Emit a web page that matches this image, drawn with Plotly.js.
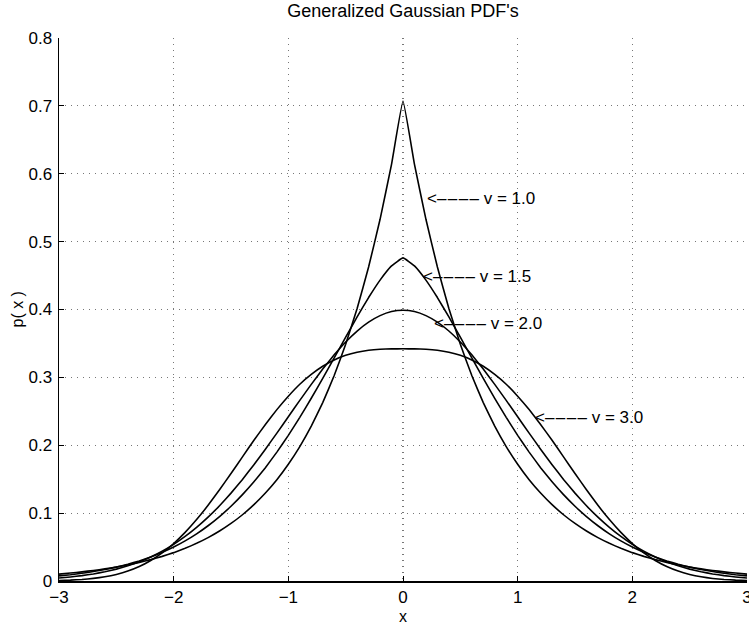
<!DOCTYPE html>
<html>
<head>
<meta charset="utf-8">
<script src="https://cdn.plot.ly/plotly-3.0.1.min.js"></script>
<style>html,body{margin:0;padding:0;background:#fff;}#chart{width:749px;height:624px;}</style>
</head>
<body>
<div id="chart"></div>
<script>
const xValues = [-3.0,-2.9,-2.8,-2.7,-2.6,-2.5,-2.4,-2.3,-2.2,-2.1,-2.0,-1.9,-1.8,-1.7,-1.6,-1.5,-1.4,-1.3,-1.2,-1.1,-1.0,-0.9,-0.8,-0.7,-0.6,-0.5,-0.4,-0.3,-0.2,-0.1,0.0,0.1,0.2,0.3,0.4,0.5,0.6,0.7,0.8,0.9,1.0,1.1,1.2,1.3,1.4,1.5,1.6,1.7,1.8,1.9,2.0,2.1,2.2,2.3,2.4,2.5,2.6,2.7,2.8,2.9,3.0];

const pV10 = [0.0102,0.0117,0.0135,0.0155,0.0179,0.0206,0.0237,0.0273,0.0315,0.0363,0.0418,0.0481,0.0555,0.0639,0.0736,0.0848,0.0976,0.1125,0.1296,0.1492,0.1719,0.1980,0.2281,0.2628,0.3027,0.3487,0.4016,0.4626,0.5329,0.6139,0.7071,0.6139,0.5329,0.4626,0.4016,0.3487,0.3027,0.2628,0.2281,0.1980,0.1719,0.1492,0.1296,0.1125,0.0976,0.0848,0.0736,0.0639,0.0555,0.0481,0.0418,0.0363,0.0315,0.0273,0.0237,0.0206,0.0179,0.0155,0.0135,0.0117,0.0102];

const pV15 = [0.0076,0.0093,0.0114,0.0139,0.0169,0.0204,0.0246,0.0296,0.0354,0.0422,0.0500,0.0591,0.0695,0.0814,0.0949,0.1101,0.1272,0.1461,0.1670,0.1899,0.2146,0.2411,0.2692,0.2985,0.3287,0.3592,0.3891,0.4176,0.4433,0.4642,0.4760,0.4642,0.4433,0.4176,0.3891,0.3592,0.3287,0.2985,0.2692,0.2411,0.2146,0.1899,0.1670,0.1461,0.1272,0.1101,0.0949,0.0814,0.0695,0.0591,0.0500,0.0422,0.0354,0.0296,0.0246,0.0204,0.0169,0.0139,0.0114,0.0093,0.0076];

const pV20 = [0.0044,0.0060,0.0079,0.0104,0.0136,0.0175,0.0224,0.0283,0.0355,0.0440,0.0540,0.0656,0.0790,0.0940,0.1109,0.1295,0.1497,0.1714,0.1942,0.2179,0.2420,0.2661,0.2897,0.3123,0.3332,0.3521,0.3683,0.3814,0.3910,0.3970,0.3989,0.3970,0.3910,0.3814,0.3683,0.3521,0.3332,0.3123,0.2897,0.2661,0.2420,0.2179,0.1942,0.1714,0.1497,0.1295,0.1109,0.0940,0.0790,0.0656,0.0540,0.0440,0.0355,0.0283,0.0224,0.0175,0.0136,0.0104,0.0079,0.0060,0.0044];

const pV30 = [0.0007,0.0013,0.0023,0.0038,0.0062,0.0097,0.0146,0.0213,0.0302,0.0414,0.0552,0.0716,0.0905,0.1115,0.1344,0.1584,0.1829,0.2073,0.2307,0.2525,0.2723,0.2899,0.3044,0.3164,0.3257,0.3325,0.3371,0.3400,0.3415,0.3420,0.3421,0.3420,0.3415,0.3400,0.3371,0.3325,0.3257,0.3164,0.3044,0.2899,0.2723,0.2525,0.2307,0.2073,0.1829,0.1584,0.1344,0.1115,0.0905,0.0716,0.0552,0.0414,0.0302,0.0213,0.0146,0.0097,0.0062,0.0038,0.0023,0.0013,0.0007];

const seriesList = [pV10, pV15, pV20, pV30];
const labelTexts = ["v = 1.0", "v = 1.5", "v = 2.0", "v = 3.0"];
const labelArrowX = [0.19, 0.16, 0.25, 1.13];
const labelArrowY = [0.563, 0.448, 0.379, 0.241];

const xTickVals = [-3,-2,-1,0,1,2,3];
const xTickText = ["\u22123","\u22122","\u22121","0","1","2","3"];
const yTickVals = [0,0.1,0.2,0.3,0.4,0.5,0.6,0.7,0.8];
const yTickText = ["0","0.1","0.2","0.3","0.4","0.5","0.6","0.7","0.8"];

const FONT = "Liberation Sans, Arial, Helvetica, sans-serif";

const traces = seriesList.map(ys => ({
  x: xValues, y: ys, type: "scatter", mode: "lines",
  line: {color: "#000", width: 1.6, shape: "spline", smoothing: 0.3},
  showlegend: false, hoverinfo: "skip"
}));

const DASHES = "&lt;\u2013\u200a\u2013\u200a\u2013\u200a\u2013 ";
const annotations = [];
labelTexts.forEach((t, i) => {
  annotations.push({
    x: labelArrowX[i], y: labelArrowY[i], xref: "x", yref: "y",
    text: DASHES + t, showarrow: false, xanchor: "left", yanchor: "middle",
    font: {family: FONT, size: 17, color: "#000"}
  });
});
annotations.push({
  x: 0.5, y: 0, xref: "paper", yref: "paper", yshift: -35,
  text: "x", showarrow: false, xanchor: "center", yanchor: "middle",
  font: {family: FONT, size: 16, color: "#000"}
});
annotations.push({
  x: 0, y: 0.5, xref: "paper", yref: "paper", xshift: -42,
  text: "p( x )", textangle: -90, showarrow: false, xanchor: "center", yanchor: "middle",
  font: {family: FONT, size: 16, color: "#000"}
});

const layout = {
  width: 749, height: 624,
  margin: {l: 59, r: 2, t: 38, b: 43},
  paper_bgcolor: "#fff", plot_bgcolor: "#fff",
  title: {text: "Generalized Gaussian PDF's", x: 0.5, xanchor: "center", xref: "paper", y: 1, yref: "container", yanchor: "top", pad: {t: 4},
          font: {family: FONT, size: 18, color: "#000"}},
  xaxis: {
    range: [-3, 3], tickvals: xTickVals, ticktext: xTickText,
    ticks: "inside", ticklen: 5, tickcolor: "#000", tickwidth: 1,
    showline: true, linecolor: "#000", linewidth: 1.5, mirror: false,
    showgrid: true, gridcolor: "#777", griddash: "1px,5px", gridwidth: 1.2,
    zeroline: false, tickfont: {family: FONT, size: 17, color: "#000"},
    ticklabeloverflow: "allow", fixedrange: true
  },
  yaxis: {
    range: [0, 0.8], tickvals: yTickVals, ticktext: yTickText,
    ticks: "inside", ticklen: 5, tickcolor: "#000", tickwidth: 1,
    showline: true, linecolor: "#000", linewidth: 1.5, mirror: false,
    showgrid: true, gridcolor: "#777", griddash: "1px,5px", gridwidth: 1.2,
    zeroline: false, tickfont: {family: FONT, size: 17, color: "#000"},
    ticklabelstandoff: 2, fixedrange: true
  },
  annotations: annotations
};

Plotly.newPlot("chart", traces, layout, {staticPlot: true, displayModeBar: false});
</script>
</body>
</html>
